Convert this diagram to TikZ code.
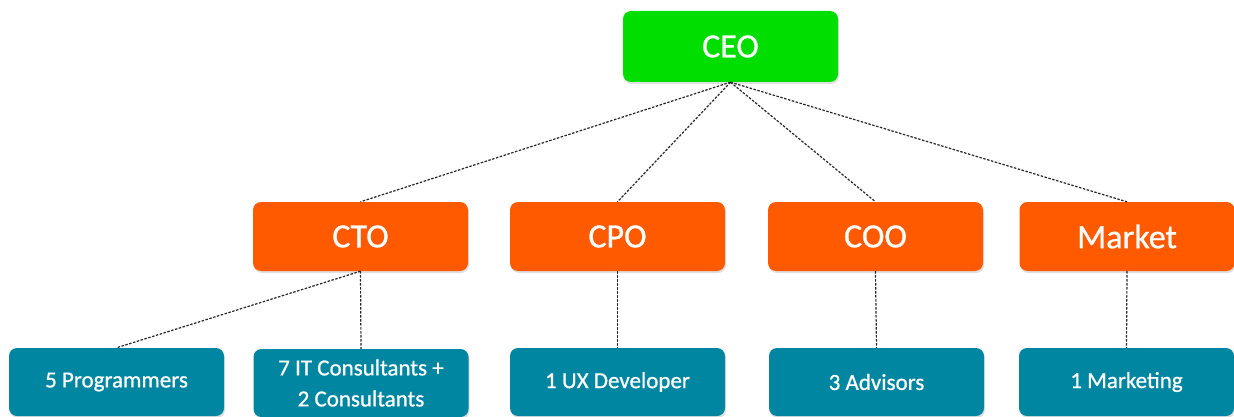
\documentclass[tikz,border=0pt]{standalone}
\usepackage{fontspec}
\setmainfont[FakeBold=0.8]{Carlito}
\definecolor{ceogreen}{RGB}{0,222,0}
\definecolor{leadorange}{RGB}{255,90,0}
\definecolor{teamteal}{RGB}{0,134,160}
\usepackage{tikz}
\usetikzlibrary{positioning, shadows}

\begin{document}
\begin{tikzpicture}[x=1pt, y=-1pt,
  box/.style={rounded corners=8pt, minimum width=215pt, minimum height=70pt, inner sep=0pt,
    text=white, align=center, drop shadow={opacity=0.25, shadow xshift=1pt, shadow yshift=-2pt}},
  ceobox/.style={box, fill=ceogreen, minimum height=71pt, font=\fontsize{34}{38}\selectfont},
  leadbox/.style={box, fill=leadorange, minimum height=69pt, font=\fontsize{34}{38}\selectfont},
  teambox/.style={box, fill=teamteal, minimum height=68pt, font=\fontsize{23}{31}\selectfont},
  link/.style={black!85, line width=1.2pt, dash pattern=on 2.5pt off 1.5pt}]
  \useasboundingbox (0,0) rectangle (1234,417);

  % Top
  \node[ceobox] (ceo) at (730.5,46.5) {CEO};

  % Leads
  \node[leadbox] (cto) at (360.5,236.5) {CTO};
  \node[leadbox] (cpo) at (617.5,236.5) {CPO};
  \node[leadbox] (coo) at (875.5,236.5) {COO};
  \node[leadbox] (market) at (1127,236.5) {Market};

  % Teams
  \node[teambox] (prog) at (116.5,382) {5 Programmers};
  \node[teambox] (itcons) at (361,383) {7 IT Consultants +\\2 Consultants};
  \node[teambox] (ux) at (617.5,382) {1 UX Developer};
  \node[teambox] (advisors) at (876.5,382) {3 Advisors};
  \node[teambox] (marketing) at (1126.5,382) {1 Marketing};

  % Links
  \foreach \lead in {cto,cpo,coo,market}
    \draw[link] (ceo.south) -- (\lead.north);
  \draw[link] (cto.south) -- (prog.north);
  \draw[link] (cto.south) -- (itcons.north);
  \draw[link] (cpo.south) -- (ux.north);
  \draw[link] (coo.south) -- (advisors.north);
  \draw[link] (market.south) -- (marketing.north);
\end{tikzpicture}
\end{document}
